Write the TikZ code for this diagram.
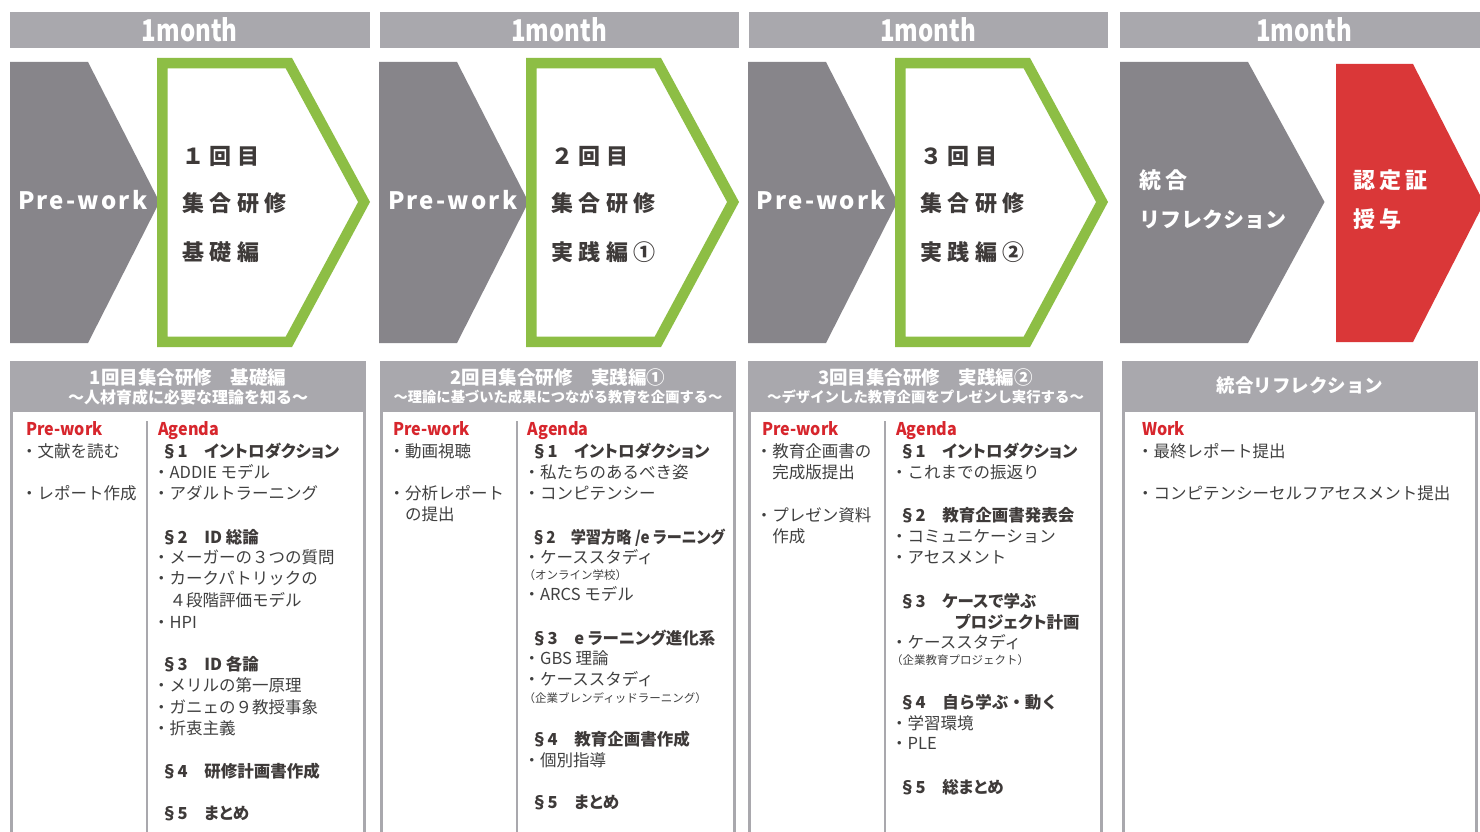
\documentclass[tikz,border=0pt]{standalone}
\usepackage{fontspec}
\usepackage{graphicx}
\setmainfont{Noto Sans CJK JP}
\definecolor{barg}{HTML}{A9A8AD}
\definecolor{chevg}{HTML}{87858A}
\definecolor{grn}{HTML}{8DBE45}
\definecolor{redc}{HTML}{DA3738}
\definecolor{redt}{HTML}{D7262D}
\definecolor{dark}{HTML}{3E3A39}
\definecolor{txtc}{HTML}{404040}
\tikzset{
  barbox/.style={fill=barg,draw=none},
  bartxt/.style={inner sep=0,anchor=base,text=white,font=\bfseries\fontsize{30}{30}\selectfont},
  grayarrow/.style={fill=chevg,draw=none},
  greenarrow/.style={draw=grn,line width=10.5pt,fill=white,line join=miter},
  redarrow/.style={fill=redc,draw=none},
  chvtxt/.style={inner sep=0,anchor=base west,text=dark,font=\bfseries\fontsize{22}{22}\selectfont\addfontfeature{LetterSpace=25}},
  prewtxt/.style={inner sep=0,anchor=base west,text=white,font=\bfseries\fontsize{24}{24}\selectfont\addfontfeature{LetterSpace=9}},
  whtxt/.style={inner sep=0,anchor=base west,text=white,font=\bfseries\fontsize{22}{22}\selectfont},
  hdbox/.style={fill=barg,draw=none},
  border/.style={draw=barg,line width=3pt},
  divider/.style={draw=barg,line width=2pt},
  hdone/.style={inner sep=0,anchor=base,text=white,font=\bfseries\fontsize{18.5}{18.5}\selectfont},
  hdtwo/.style={inner sep=0,anchor=base,text=white,font=\bfseries\fontsize{16}{16}\selectfont},
  body/.style={inner sep=0,anchor=base west,text=txtc,font=\fontsize{16.5}{16.5}\selectfont},
  sect/.style={body,text=dark,font=\bfseries\fontsize{16.5}{16.5}\selectfont\addfontfeature{RawFeature=+palt}},
  sectwide/.style={body,text=dark,font=\bfseries\fontsize{16.5}{16.5}\selectfont},
  sectnarrow/.style={body,text=dark,font=\bfseries\fontsize{16.5}{16.5}\selectfont\addfontfeature{RawFeature=+palt,FakeStretch=0.92}},
  small/.style={body,font=\fontsize{11.5}{11.5}\selectfont},
  redh/.style={inner sep=0,anchor=base west,text=redt,font=\bfseries\fontsize{17.5}{17.5}\selectfont\addfontfeature{FakeStretch=0.92}},
}
\begin{document}
\begin{tikzpicture}[x=1pt,y=-1pt]
\useasboundingbox (0,0) rectangle (1480,832);
\clip (0,0) rectangle (1480,832);
\fill[white] (0,0) rectangle (1480,832);
% top bars
\fill[barbox] (10,12) rectangle (369.5,48);
\fill[barbox] (379.5,12) rectangle (739,48);
\fill[barbox] (748.5,12) rectangle (1108,48);
\fill[barbox] (1119.5,12) rectangle (1480,48);
\node[bartxt] (m1) at (189.75,42) {\scalebox{0.8}[1]{1month}};
\node[bartxt] (m2) at (559.25,42) {\scalebox{0.8}[1]{1month}};
\node[bartxt] (m3) at (928.25,42) {\scalebox{0.8}[1]{1month}};
\node[bartxt] (m4) at (1304,42) {\scalebox{0.8}[1]{1month}};
% chevrons group 1-3
\foreach \dx in {0,369,738}{
  \begin{scope}[xshift=\dx pt]
    \fill[grayarrow] (10,62) -- (88,62) -- (159.5,202) -- (88,343) -- (10,343) -- cycle;
    \draw[greenarrow] (162.25,63.25) -- (288.9,63.25) -- (364.05,202) -- (288.9,341.75) -- (162.25,341.75) -- cycle;
  \end{scope}
}
\node[prewtxt] (pw1) at (18,209) {Pre-work};
\node[prewtxt] (pw2) at (388,209) {Pre-work};
\node[prewtxt] (pw3) at (756.5,209) {Pre-work};
\node[chvtxt] (g1a) at (182,164.4) {１回目};
\node[chvtxt] (g1b) at (182,211.4) {集合研修};
\node[chvtxt] (g1c) at (182,260.9) {基礎編};
\node[chvtxt] (g2a) at (551,164.4) {２回目};
\node[chvtxt] (g2b) at (551,211.4) {集合研修};
\node[chvtxt] (g2c) at (551,260.9) {実践編①};
\node[chvtxt] (g3a) at (920,164.4) {３回目};
\node[chvtxt] (g3b) at (920,211.4) {集合研修};
\node[chvtxt] (g3c) at (920,260.9) {実践編②};
% group 4
\fill[grayarrow] (1120,62) -- (1248,62) -- (1324.5,202) -- (1248,343) -- (1120,343) -- cycle;
\fill[redarrow] (1336,64) -- (1413,64) -- (1484,203) -- (1413,342) -- (1336,342) -- cycle;
\node[whtxt,font=\bfseries\fontsize{22}{22}\selectfont\addfontfeature{LetterSpace=20}] (t4a) at (1139,188.8) {統合};
\node[whtxt,font=\bfseries\fontsize{21}{21}\selectfont] (t4b) at (1139,227.5) {リフレクション};
\node[whtxt,font=\bfseries\fontsize{22}{22}\selectfont\addfontfeature{LetterSpace=20}] (t5a) at (1353,188.5) {認定証};
\node[whtxt,font=\bfseries\fontsize{22}{22}\selectfont\addfontfeature{LetterSpace=20}] (t5b) at (1353,227.5) {授与};
% panels
\fill[hdbox] (10,361) rectangle (366,412);
\draw[border] (11.5,412) -- (11.5,834);
\draw[border] (364.5,412) -- (364.5,834);
\draw[divider] (147,421) -- (147,834);
\fill[hdbox] (380,361) rectangle (736,412);
\draw[border] (381.5,412) -- (381.5,834);
\draw[border] (734.5,412) -- (734.5,834);
\draw[divider] (516.5,421) -- (516.5,834);
\fill[hdbox] (748,361) rectangle (1103,412);
\draw[border] (749.5,412) -- (749.5,834);
\draw[border] (1101.5,412) -- (1101.5,834);
\draw[divider] (885,421) -- (885,834);
\fill[hdbox] (1122,361) rectangle (1478,412);
\draw[border] (1123.5,412) -- (1123.5,834);
\draw[border] (1476.5,412) -- (1476.5,834);
% headers
\node[hdone] (h1a) at (188,384) {1回目集合研修　基礎編};
\node[hdtwo] (h1b) at (188,403) {～人材育成に必要な理論を知る～};
\node[hdone] (h2a) at (558,384) {2回目集合研修　実践編①};
\node[hdtwo,font=\bfseries\fontsize{14.3}{14.3}\selectfont] (h2b) at (558,402.5) {～理論に基づいた成果につながる教育を企画する～};
\node[hdone] (h3a) at (925.5,384) {3回目集合研修　実践編②};
\node[hdtwo,font=\bfseries\fontsize{14.4}{14.4}\selectfont] (h3b) at (925.5,402.5) {～デザインした教育企画をプレゼンし実行する～};
\node[hdone] (h4a) at (1300,392) {統合リフレクション};
% panel 1
\node[redh] (p1l0) at (26,435.6) {Pre-work};
\node[body] (p1l1) at (21,457.3) {・文献を読む};
\node[body] (p1l2) at (21,499.3) {・レポート作成};
\node[redh] (p1r0) at (158,435.6) {Agenda};
\node[sect] (p1r1) at (161,457.3) {§1　イントロダクション};
\node[body] (p1r2) at (153,478.3) {・ADDIE モデル};
\node[body] (p1r3) at (153,499.3) {・アダルトラーニング};
\node[sect] (p1r4) at (161,543) {§2　ID 総論};
\node[body] (p1r5) at (153,563.3) {・メーガーの３つの質問};
\node[body] (p1r6) at (153,584.3) {・カークパトリックの};
\node[body] (p1r7) at (153,606.3) {　４段階評価モデル};
\node[body] (p1r8) at (153,628) {・HPI};
\node[sect] (p1r9) at (161,670.3) {§3　ID 各論};
\node[body] (p1r10) at (153,691.3) {・メリルの第一原理};
\node[body] (p1r11) at (153,713) {・ガニェの９教授事象};
\node[body] (p1r12) at (153,734.3) {・折衷主義};
\node[sect] (p1r13) at (161,777) {§4　研修計画書作成};
\node[sect] (p1r14) at (161,819) {§5　まとめ};
% panel 2
\node[redh] (p2l0) at (393,435.6) {Pre-work};
\node[body] (p2l1) at (388.5,457.3) {・動画視聴};
\node[body] (p2l2) at (388.5,499.3) {・分析レポート};
\node[body] (p2l3) at (388.5,520.3) {　の提出};
\node[redh] (p2r0) at (527.7,435.6) {Agenda};
\node[sect] (p2r1) at (531,457.3) {§1　イントロダクション};
\node[body] (p2r2) at (523.5,478.3) {・私たちのあるべき姿};
\node[body] (p2r3) at (523.5,499.3) {・コンピテンシー};
\node[sectnarrow] (p2r4) at (531,543) {§2　学習方略 /e ラーニング};
\node[body] (p2r5) at (523.5,563.3) {・ケーススタディ};
\node[small] (p2r6) at (523.5,579.4) {（オンライン学校）};
\node[body] (p2r7) at (523.5,600.3) {・ARCS モデル};
\node[sect] (p2r8) at (531,644) {§3　e ラーニング進化系};
\node[body] (p2r9) at (523.5,664.3) {・GBS 理論};
\node[body] (p2r10) at (523.5,685.3) {・ケーススタディ};
\node[small] (p2r11) at (523.5,702.4) {（企業ブレンディッドラーニング）};
\node[sect] (p2r12) at (531,745.3) {§4　教育企画書作成};
\node[body] (p2r13) at (523.5,766.3) {・個別指導};
\node[sect] (p2r14) at (531,808.3) {§5　まとめ};
% panel 3
\node[redh] (p3l0) at (762,435.6) {Pre-work};
\node[body] (p3l1) at (755.7,457.3) {・教育企画書の};
\node[body] (p3l2) at (755.7,478.3) {　完成版提出};
\node[body] (p3l3) at (755.7,521) {・プレゼン資料};
\node[body] (p3l4) at (755.7,542.3) {　作成};
\node[redh] (p3r0) at (896,435.6) {Agenda};
\node[sect] (p3r1) at (899,457.3) {§1　イントロダクション};
\node[body] (p3r2) at (891,478.3) {・これまでの振返り};
\node[sect] (p3r3) at (899,521) {§2　教育企画書発表会};
\node[body] (p3r4) at (891,542.3) {・コミュニケーション};
\node[body] (p3r5) at (891,563.3) {・アセスメント};
\node[sect] (p3r6) at (899,607) {§3　ケースで学ぶ};
\node[sect] (p3r7) at (955,628) {プロジェクト計画};
\node[body] (p3r8) at (891,648.3) {・ケーススタディ};
\node[small] (p3r9) at (891,664.4) {（企業教育プロジェクト）};
\node[sectwide] (p3r10) at (899,708) {§4　自ら学ぶ・動く};
\node[body] (p3r11) at (891,729) {・学習環境};
\node[body] (p3r12) at (891,749.3) {・PLE};
\node[sect] (p3r13) at (899,793) {§5　総まとめ};
% panel 4
\node[redh] (p4l0) at (1142,435.6) {Work};
\node[body] (p4l1) at (1137,457.3) {・最終レポート提出};
\node[body] (p4l2) at (1137,499.3) {・コンピテンシーセルフアセスメント提出};
\end{tikzpicture}
\end{document}
